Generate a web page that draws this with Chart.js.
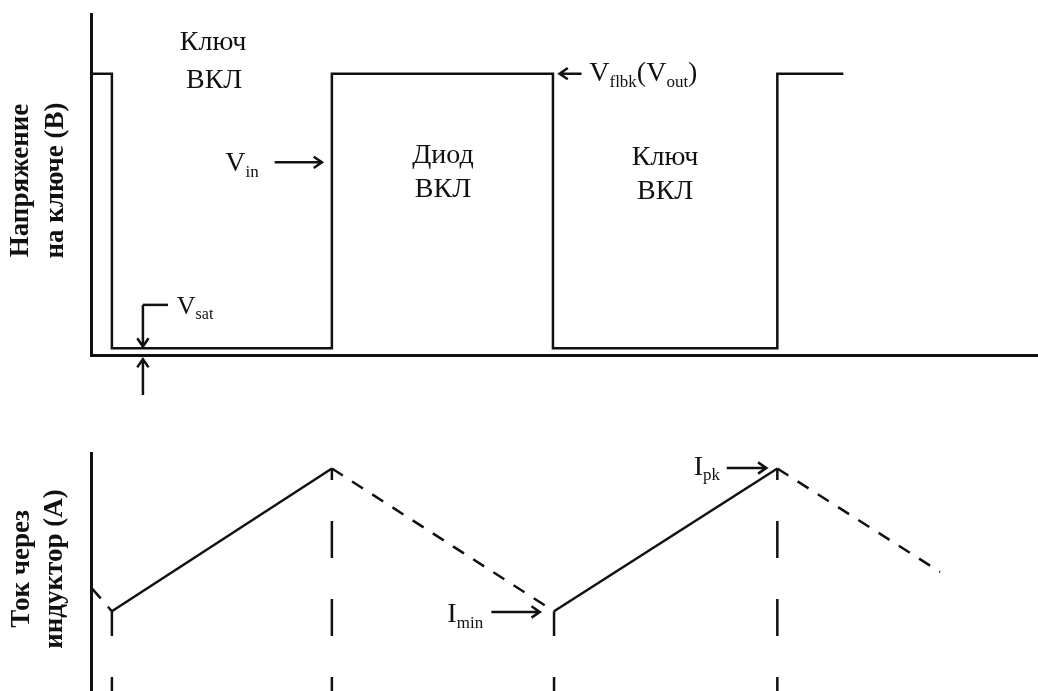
<!DOCTYPE html>
<html>
<head>
<meta charset="utf-8">
<script src="https://cdn.jsdelivr.net/npm/chart.js@4/dist/chart.umd.min.js"></script>
<style>
  html, body { margin: 0; padding: 0; background: #fff; }
  #wrap { position: relative; width: 1038px; height: 691px; }
  canvas { position: absolute; left: 0; }
</style>
</head>
<body>
<div id="wrap">
  <canvas id="voltageChart" width="1038" height="400" style="top:0"></canvas>
  <canvas id="currentChart" width="1038" height="291" style="top:400px"></canvas>
</div>
<script>
// switch voltage, stepped (arbitrary time / volt units)
const switchTimes = [0, 0.95, 10.95, 21.0, 31.2, 34.2];
const switchVoltage = [8.25, 0.2, 8.25, 0.2, 8.25, 8.25];

// inductor current: rising (switch on) solid, falling (diode on) dashed
const currentTimes = [0.05, 0.95, 10.95, 21.05, 31.2, 38.6];
const inductorCurrent = [4.3, 3.35, 9.35, 3.35, 9.35, 5.0];

// dashed marker lines dropped from every current corner
const markerTimes = [0.95, 10.95, 21.05, 31.2];
const markerTops = [3.35, 9.35, 3.35, 9.35];

const ink = '#111';
const serif = '"Liberation Serif", "Times New Roman", serif';

function toPoints(xs, ys) {
    return xs.map((t, i) => ({ x: t, y: ys[i] }));
}

function centerText(ctx, text, x, y, font) {
    ctx.font = font;
    ctx.textAlign = 'center';
    ctx.textBaseline = 'middle';
    ctx.fillText(text, x, y);
}

// text with subscripts, parts = [[string, isSub], ...]
function richText(ctx, parts, x, y, size) {
    let cx = x;
    ctx.textAlign = 'left';
    ctx.textBaseline = 'middle';
    parts.forEach(([s, sub]) => {
        ctx.font = (sub ? Math.round(size * 0.6) : size) + 'px ' + serif;
        ctx.fillText(s, cx, sub ? y + size * 0.3 : y);
        cx += ctx.measureText(s).width;
    });
}

function arrow(ctx, x1, y1, x2, y2) {
    const a = Math.atan2(y2 - y1, x2 - x1), h = 10;
    ctx.beginPath();
    ctx.moveTo(x1, y1);
    ctx.lineTo(x2, y2);
    ctx.moveTo(x2 - h * Math.cos(a - 0.6), y2 - h * Math.sin(a - 0.6));
    ctx.lineTo(x2, y2);
    ctx.lineTo(x2 - h * Math.cos(a + 0.6), y2 - h * Math.sin(a + 0.6));
    ctx.stroke();
}

function axisTitle(ctx, lines, x, y, gap) {
    ctx.save();
    ctx.translate(x, y);
    ctx.rotate(-Math.PI / 2);
    lines.forEach((s, i) => centerText(ctx, s, 0, i * gap, 'bold 27px ' + serif));
    ctx.restore();
}

const labelFont = '28px ' + serif;

const voltageNotes = {
    id: 'voltageNotes',
    afterDraw(chart) {
        const { ctx, chartArea, scales: { x, y } } = chart;
        const px = t => x.getPixelForValue(t);
        const py = v => y.getPixelForValue(v);
        ctx.save();
        ctx.fillStyle = ink;
        ctx.strokeStyle = ink;
        ctx.lineWidth = 2.5;

        axisTitle(ctx, ['Напряжение', 'на ключе (В)'], chartArea.left - 70,
            (chartArea.top + chartArea.bottom) / 2 - 4, 35);

        centerText(ctx, 'Ключ', px(5.55), py(9.15), labelFont);
        centerText(ctx, 'ВКЛ', px(5.6), py(8.05), labelFont);
        centerText(ctx, 'Диод', px(16.0), py(5.85), labelFont);
        centerText(ctx, 'ВКЛ', px(16.0), py(4.85), labelFont);
        centerText(ctx, 'Ключ', px(26.1), py(5.8), labelFont);
        centerText(ctx, 'ВКЛ', px(26.1), py(4.8), labelFont);

        richText(ctx, [['V', false], ['in', true]], px(6.1), py(5.6), 28);
        arrow(ctx, px(8.35), py(5.65), px(10.5), py(5.65));

        arrow(ctx, px(22.3), py(8.25), px(21.3), py(8.25));
        richText(ctx, [['V', false], ['flbk', true], ['(V', false], ['out', true], [')', false]],
            px(22.65), py(8.25), 28);

        // Vsat bracket and the arrow under the axis
        ctx.beginPath();
        ctx.moveTo(px(3.5), py(1.47));
        ctx.lineTo(px(2.36), py(1.47));
        ctx.stroke();
        arrow(ctx, px(2.36), py(1.47), px(2.36), py(0.25));
        arrow(ctx, px(2.36), py(-1.17), px(2.36), py(-0.12));
        richText(ctx, [['V', false], ['sat', true]], px(3.9), py(1.4), 26);
        ctx.restore();
    }
};

const currentNotes = {
    id: 'currentNotes',
    afterDraw(chart) {
        const { ctx, chartArea, scales: { x, y } } = chart;
        const px = t => x.getPixelForValue(t);
        const py = v => y.getPixelForValue(v);
        ctx.save();
        ctx.fillStyle = ink;
        ctx.strokeStyle = ink;
        ctx.lineWidth = 2.5;

        axisTitle(ctx, ['Ток через', 'индуктор (А)'], chartArea.left - 69,
            (chartArea.top + chartArea.bottom) / 2 - 3, 33);

        richText(ctx, [['I', false], ['min', true]], px(16.2), py(3.2), 28);
        arrow(ctx, px(18.2), py(3.32), px(20.4), py(3.32));

        richText(ctx, [['I', false], ['pk', true]], px(27.4), py(9.4), 28);
        arrow(ctx, px(28.9), py(9.37), px(30.7), py(9.37));
        ctx.restore();
    }
};

function axesOptions(xMax, yMax, showX) {
    return {
        x: {
            type: 'linear', min: 0, max: xMax,
            grid: { display: false, drawTicks: false },
            ticks: { display: false },
            border: { display: showX, color: ink, width: 3 }
        },
        y: {
            type: 'linear', min: 0, max: yMax,
            grid: { display: false, drawTicks: false },
            ticks: { display: false },
            border: { display: true, color: ink, width: 3 }
        }
    };
}

const commonOptions = {
    responsive: false,
    devicePixelRatio: 1,
    animation: false,
    events: [],
    plugins: { legend: { display: false }, tooltip: { enabled: false } }
};

// Voltage Chart
new Chart(document.getElementById('voltageChart').getContext('2d'), {
    type: 'scatter',
    data: {
        datasets: [{
            data: toPoints(switchTimes, switchVoltage),
            showLine: true,
            stepped: true,
            borderColor: ink,
            borderWidth: 2.5,
            pointRadius: 0
        }]
    },
    options: Object.assign({}, commonOptions, {
        layout: { padding: { left: 91, top: 14, right: 0, bottom: 45 } },
        scales: axesOptions(43.05, 10, true)
    }),
    plugins: [voltageNotes]
});

// Current Chart
const markerSets = markerTimes.map((t, i) => ({
    data: [{ x: t, y: 0 }, { x: t, y: markerTops[i] }],
    showLine: true,
    borderColor: ink,
    borderWidth: 2.5,
    borderDash: [37, 41],
    borderDashOffset: 23,
    pointRadius: 0
}));

new Chart(document.getElementById('currentChart').getContext('2d'), {
    type: 'scatter',
    data: {
        datasets: [{
            data: toPoints(currentTimes, inductorCurrent),
            showLine: true,
            borderColor: ink,
            borderWidth: 2.5,
            pointRadius: 0,
            segment: {
                borderDash: c => c.p1.parsed.y < c.p0.parsed.y ? [13, 11] : undefined
            }
        }].concat(markerSets)
    },
    options: Object.assign({}, commonOptions, {
        layout: { padding: { left: 91, top: 53, right: 0, bottom: 0 } },
        scales: axesOptions(43.05, 10, false)
    }),
    plugins: [currentNotes]
});
</script>
</body>
</html>
